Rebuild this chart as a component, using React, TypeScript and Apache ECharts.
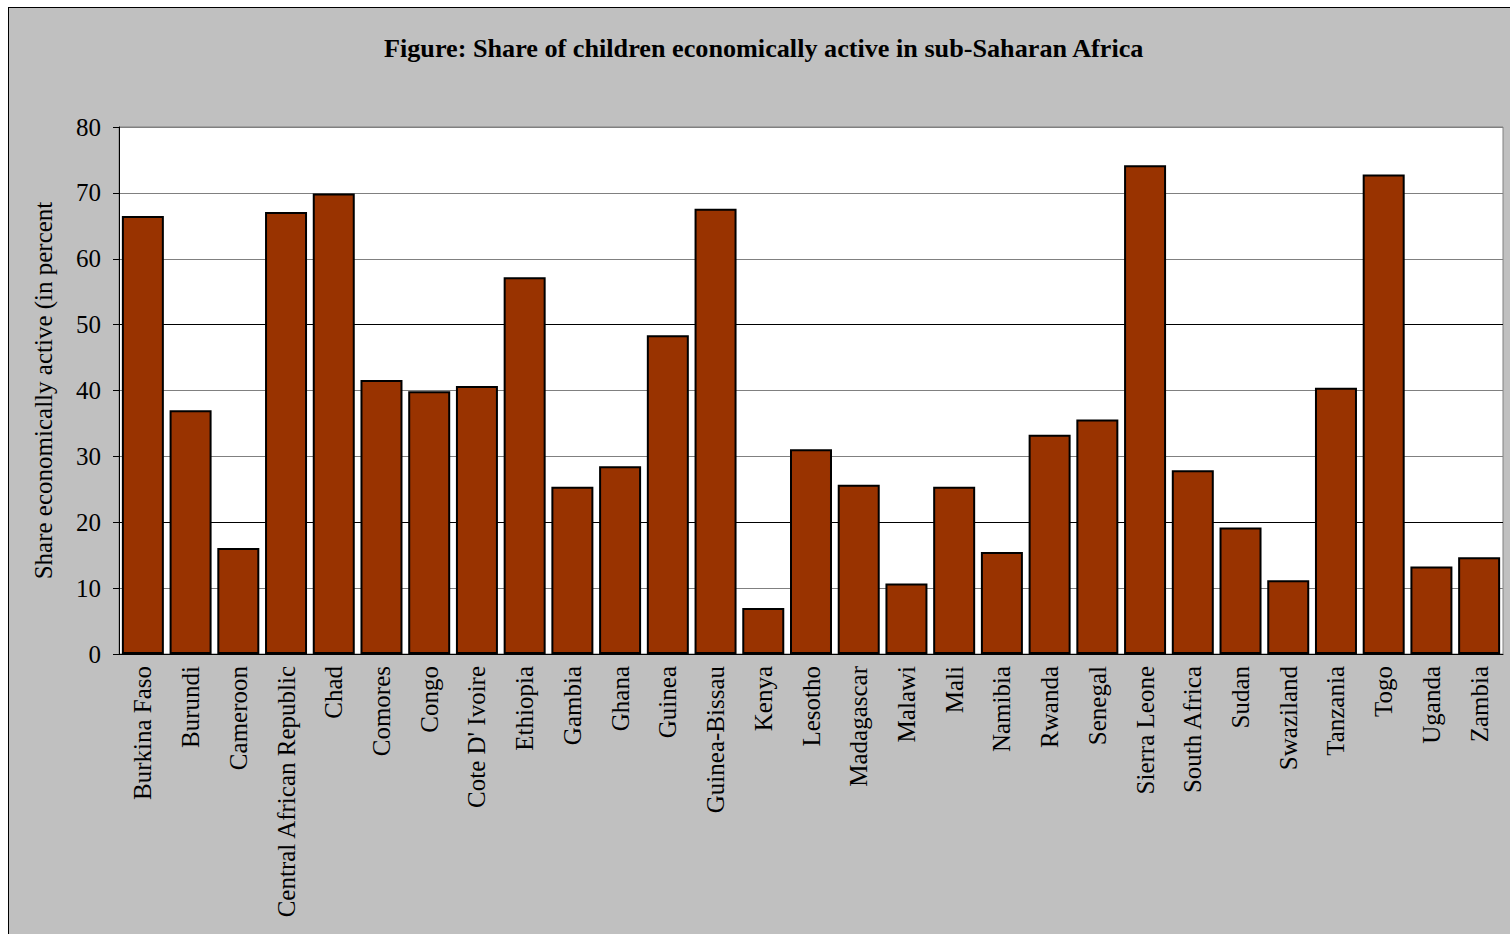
import React, { useEffect, useRef } from "react";
import * as echarts from "echarts";

const countries = [
  "Burkina Faso", "Burundi", "Cameroon", "Central African Republic", "Chad",
  "Comores", "Congo", "Cote D' Ivoire", "Ethiopia", "Gambia", "Ghana", "Guinea",
  "Guinea-Bissau", "Kenya", "Lesotho", "Madagascar", "Malawi", "Mali", "Namibia",
  "Rwanda", "Senegal", "Sierra Leone", "South Africa", "Sudan", "Swaziland",
  "Tanzania", "Togo", "Uganda", "Zambia",
];

const shareActive = [
  66.5, 37.0, 16.1, 67.1, 69.9,
  41.6, 39.9, 40.7, 57.2, 25.4, 28.5, 48.4,
  67.6, 7.0, 31.1, 25.7, 10.7, 25.4, 15.5,
  33.3, 35.6, 74.2, 27.9, 19.2, 11.2,
  40.4, 72.8, 13.3, 14.7,
];

const yTicks = { min: 0, max: 80, interval: 10 };

const titleText = "Figure: Share of children economically active in sub-Saharan Africa";
const yAxisTitle = "Share economically active (in percent";

const SERIF = '"Liberation Serif", "Times New Roman", "DejaVu Serif", serif';

export default function App() {
  const ref = useRef<HTMLDivElement>(null);

  useEffect(() => {
    document.body.style.margin = "0";
    if (!ref.current) return;
    const chart = echarts.init(ref.current, null, { renderer: "svg" });
    const gridColors = ["#808080", "#808080", "#000000", "#808080", "#808080", "#000000", "#808080", "#808080", "#808080"];
    chart.setOption({
      animation: false,
      title: {
        text: titleText,
        left: 379,
        top: 30,
        textStyle: { fontFamily: SERIF, fontWeight: "bold", fontSize: 26.2, color: "#000" },
      },
      grid: {
        left: 119,
        top: 127,
        width: 1384,
        height: 527,
        show: true,
        backgroundColor: "#ffffff",
        borderColor: "#808080",
        borderWidth: 1,
      },
      xAxis: {
        type: "category",
        data: countries,
        axisLine: { lineStyle: { color: "#000", width: 1 } },
        axisTick: { length: 7, interval: 0, lineStyle: { color: "#000" } },
        axisLabel: {
          interval: 0,
          rotate: 90,
          margin: 12,
          fontFamily: SERIF,
          fontSize: 25,
          color: "#000",
        },
      },
      yAxis: {
        type: "value",
        min: yTicks.min,
        max: yTicks.max,
        interval: yTicks.interval,
        name: yAxisTitle,
        nameLocation: "middle",
        nameGap: 63,
        nameTextStyle: { fontFamily: SERIF, fontSize: 25, color: "#000" },
        axisLine: { show: true, lineStyle: { color: "#000", width: 1 } },
        axisTick: { show: true, length: 6, lineStyle: { color: "#000" } },
        axisLabel: { margin: 18, fontFamily: SERIF, fontSize: 25, color: "#000" },
        splitLine: { show: true, lineStyle: { color: gridColors, width: 1 } },
      },
      series: [
        {
          type: "bar",
          data: shareActive,
          barCategoryGap: "12%",
          itemStyle: { color: "#993300", borderColor: "#000", borderWidth: 2 },
        },
      ],
    });
    return () => chart.dispose();
  }, []);

  return (
    <div style={{ position: "relative", width: 1510, height: 934, overflow: "hidden", background: "#fff" }}>
      <div
        style={{
          position: "absolute",
          left: 8,
          top: 7,
          width: 1600,
          height: 1000,
          background: "#C0C0C0",
          border: "1px solid #000",
        }}
      />
      <div ref={ref} style={{ position: "absolute", left: 0, top: 0, width: 1510, height: 934 }} />
    </div>
  );
}
